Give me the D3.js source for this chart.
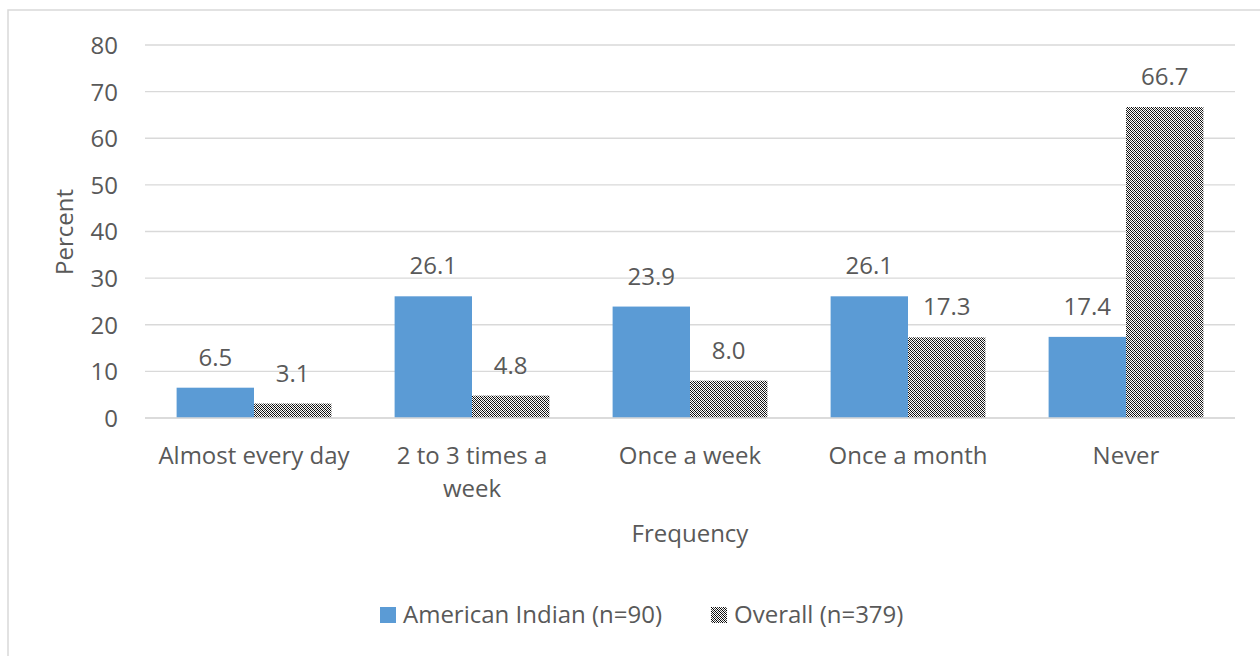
<!DOCTYPE html>
<html><head><meta charset="utf-8">
<script src="https://cdn.jsdelivr.net/npm/d3@7"></script>
<style>body{margin:0;background:#fff;} text{font-family:"Open Sans",sans-serif;fill:#595959;}</style>
</head><body>
<svg id="c" width="1260" height="656"></svg>
<script>
const categories = ["Almost every day", "2 to 3 times a week", "Once a week", "Once a month", "Never"];
const americanIndian = [6.5, 26.1, 23.9, 26.1, 17.4];
const overall = [3.1, 4.8, 8.0, 17.3, 66.7];
const seriesNames = ["American Indian (n=90)", "Overall (n=379)"];
const yTicks = [0, 10, 20, 30, 40, 50, 60, 70, 80];

(function(){
const svg = d3.select("#c");
const fs = 24;
svg.append("rect").attr("x", 8).attr("y", 10).attr("width", 1300).attr("height", 700)
  .attr("fill", "none").attr("stroke", "#d9d9d9").attr("stroke-width", 1.5);

const defs = svg.append("defs");
const pat = defs.append("pattern").attr("id", "hatch").attr("patternUnits", "userSpaceOnUse")
  .attr("width", 4).attr("height", 4);
pat.append("rect").attr("width", 4).attr("height", 4).attr("fill", "#ffffff");
const cells = [["#000","#fff","#444","#fff"],["#fff","#000","#fff","#444"],["#444","#fff","#000","#fff"],["#fff","#444","#fff","#000"]];
cells.forEach((row, ry) => row.forEach((c, rx) => {
  if (c !== "#fff") pat.append("rect").attr("x", rx).attr("y", ry).attr("width", 1).attr("height", 1).attr("fill", c);
}));

const pLeft = 145, pRight = 1235, pTop = 45, pBottom = 418;
const x = d3.scaleBand().domain(categories).range([pLeft, pRight]).paddingInner(0.29).paddingOuter(0.145);
const xs = d3.scaleBand().domain([0, 1]).range([0, x.bandwidth()]);
const y = d3.scaleLinear().domain([0, 80]).range([pBottom, pTop]);

svg.append("g").selectAll("line").data(yTicks).join("line")
  .attr("x1", pLeft).attr("x2", pRight).attr("y1", d => y(d)).attr("y2", d => y(d))
  .attr("stroke", "#d9d9d9").attr("stroke-width", 1.3);

const yAxis = d3.axisLeft(y).tickValues(yTicks).tickSize(0).tickPadding(0);
const yg = svg.append("g").attr("transform", `translate(${118},0)`).call(yAxis);
yg.select(".domain").remove();
yg.selectAll("text").attr("font-size", fs).attr("font-family", "Open Sans").attr("fill", "#595959").attr("dy", "0.35em");

const series = [americanIndian, overall];
const fills = ["#5b9bd5", "url(#hatch)"];
series.forEach((vals, si) => {
  const g = svg.append("g");
  g.selectAll("rect").data(vals).join("rect")
    .attr("x", (d, i) => x(categories[i]) + xs(si))
    .attr("width", xs.bandwidth())
    .attr("y", d => y(d)).attr("height", d => y(0) - y(d))
    .attr("fill", fills[si]);
  g.selectAll("text").data(vals).join("text")
    .attr("x", (d, i) => x(categories[i]) + xs(si) + xs.bandwidth() / 2)
    .attr("y", d => y(d) - 22)
    .attr("text-anchor", "middle").attr("font-size", fs)
    .text(d => d.toFixed(1));
});

svg.append("line").attr("x1", pLeft).attr("x2", pRight).attr("y1", y(0)).attr("y2", y(0))
  .attr("stroke", "#d9d9d9").attr("stroke-width", 1.3);

const xLabelLines = [["Almost every day"], ["2 to 3 times a", "week"], ["Once a week"], ["Once a month"], ["Never"]];
const xl = svg.append("g");
categories.forEach((c, i) => {
  const cx = x(c) + x.bandwidth() / 2;
  const t = xl.append("text").attr("x", cx).attr("y", 464)
    .attr("text-anchor", "middle").attr("font-size", fs);
  xLabelLines[i].forEach((ln, k) => t.append("tspan").attr("x", cx).attr("dy", k ? 33 : 0).text(ln));
});

svg.append("text").attr("x", 690).attr("y", 542).attr("text-anchor", "middle").attr("font-size", fs).text("Frequency");
svg.append("text").attr("transform", `translate(73,232) rotate(-90)`).attr("text-anchor", "middle").attr("font-size", fs).text("Percent");

const leg = svg.append("g");
const legX = [380, 711];
seriesNames.forEach((n, i) => {
  leg.append("rect").attr("x", legX[i]).attr("y", 607).attr("width", 16).attr("height", 16).attr("fill", fills[i]);
  leg.append("text").attr("x", legX[i] + 23).attr("y", 623).attr("font-size", fs).text(n);
});
})();
</script>
</body></html>
